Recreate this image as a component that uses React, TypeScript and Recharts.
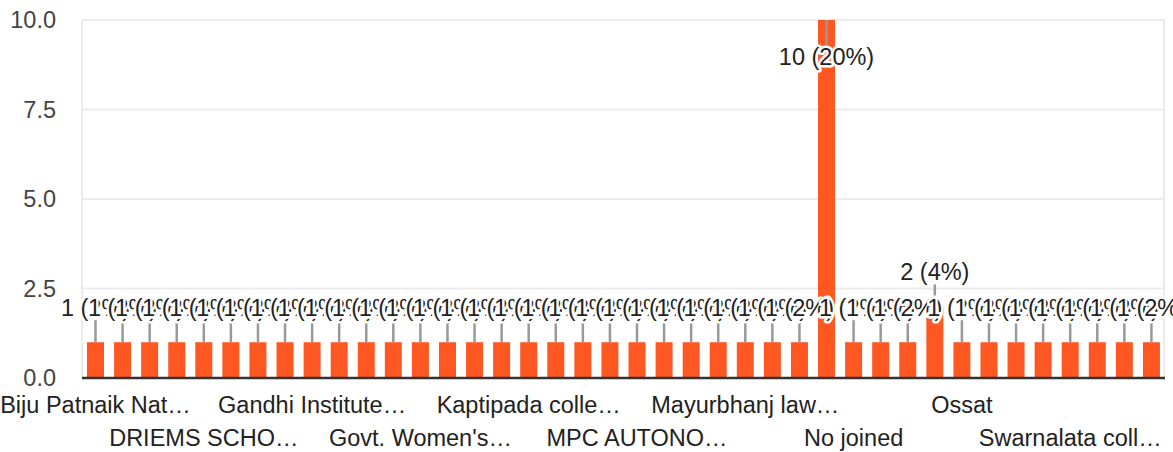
import React from "react";
import { BarChart, Bar, XAxis, YAxis, CartesianGrid, LabelList } from "recharts";

const categories: string[] = [
  "Biju Patnaik National Law University",
  "Buxi Jagabandhu Bidyadhar College",
  "Christ College",
  "College of Engineering Bhubaneswar",
  "DRIEMS SCHOOL OF NURSING",
  "Dhenkanal Autonomous College",
  "Fakir Mohan University",
  "G.M. University",
  "Gandhi Institute of Engineering and Technology",
  "Gangadhar Meher University",
  "Government College Bhubaneswar",
  "Govt. College Koraput",
  "Govt. Women's College",
  "ITER, SOA University",
  "KIIT University",
  "Kalinga University",
  "Kaptipada college",
  "Karanjia Autonomous College",
  "Khallikote University",
  "Lalbahadur Shastri College",
  "MPC AUTONOMOUS COLLEGE",
  "Maharaja Sriram Chandra Bhanja Deo University",
  "Maharishi College of Natural Law",
  "Mahatma Gandhi College",
  "Mayurbhanj law college",
  "Mayurbhanj medical college",
  "NIT Rourkela",
  "No",
  "No joined",
  "Noida International University",
  "None",
  "North Orissa University",
  "Ossat",
  "Pattamundai College",
  "Ravenshaw University",
  "Sambalpur University",
  "Swarnalata college",
  "Udala College",
  "Utkal University",
  "Vikash Degree College",
];

const counts: number[] = [
  1, 1, 1, 1, 1, 1, 1, 1, 1, 1,
  1, 1, 1, 1, 1, 1, 1, 1, 1, 1,
  1, 1, 1, 1, 1, 1, 1, 10, 1, 1,
  1, 2, 1, 1, 1, 1, 1, 1, 1, 1,
];

// Displayed (truncated) x tick labels, shown on every 4th category
const xTickLabels: string[] = [
  "Biju Patnaik Nat…",
  "DRIEMS SCHO…",
  "Gandhi Institute…",
  "Govt. Women's…",
  "Kaptipada colle…",
  "MPC AUTONO…",
  "Mayurbhanj law…",
  "No joined",
  "Ossat",
  "Swarnalata coll…",
];
const TICK_EVERY = 4;

const yTicks: number[] = [0, 2.5, 5, 7.5, 10];

const total = counts.reduce((a, b) => a + b, 0);
const data = categories.map((name, i) => ({ name, value: counts[i] }));

const FONT = "'Liberation Sans', Arial, sans-serif";
const FS = 23.5;
const PLOT_TOP = 20;

const XTick = (props: any) => {
  const { x, y, payload } = props;
  const idx = payload.index;
  if (idx % TICK_EVERY !== 0) return <g />;
  const k = idx / TICK_EVERY;
  const row = k % 2;
  return (
    <text
      x={x}
      y={y + (row === 0 ? 35 : 68)}
      textAnchor="middle"
      fill="#222"
      fontSize={FS}
      fontFamily={FONT}
    >
      {xTickLabels[k]}
    </text>
  );
};

const Leader = (props: any) => {
  const { x, y, width } = props;
  const cx = x + width / 2;
  const inside = y - PLOT_TOP < 45;
  const y1 = inside ? y : y - 22;
  const y2 = inside ? y + 25 : y;
  return <line x1={cx} x2={cx} y1={y1} y2={y2} stroke="#999" strokeWidth={2.5} />;
};

const ValueLabel = (props: any) => {
  const { x, y, width, value } = props;
  const cx = x + width / 2;
  const inside = y - PLOT_TOP < 45;
  const cy = inside ? y + 37 : y - 35;
  const pct = Math.round((value / total) * 100);
  return (
    <text
      x={cx}
      y={cy + FS * 0.355}
      textAnchor="middle"
      fill="#222"
      stroke="#fff"
      strokeWidth={5}
      strokeLinejoin="round"
      paintOrder="stroke"
      fontSize={FS}
      fontFamily={FONT}
    >
      {`${value} (${pct}%)`}
    </text>
  );
};

export default function App() {
  return (
    <div style={{ position: "absolute", left: 0, top: 0, background: "#fff" }}>
      <BarChart
        width={1173}
        height={452}
        data={data}
        margin={{ top: PLOT_TOP, right: 8, left: 0, bottom: 0 }}
        barSize={17}
      >
        <CartesianGrid
          stroke="#ebebeb"
          strokeWidth={2}
          vertical={true}
          verticalPoints={[82, 1164]}
        />
        <XAxis
          dataKey="name"
          interval={0}
          height={74}
          tickSize={0}
          tickMargin={0}
          tickLine={false}
          axisLine={{ stroke: "#333", strokeWidth: 2.5 }}
          tick={<XTick />}
        />
        <YAxis
          width={82}
          domain={[0, 10]}
          ticks={yTicks}
          interval={0}
          tickLine={false}
          axisLine={false}
          tickSize={0}
          tickMargin={26}
          tickFormatter={(v: number) => v.toFixed(1)}
          tick={{ fill: "#444", fontSize: FS, fontFamily: FONT }}
        />
        <Bar dataKey="value" fill="#ff5722" isAnimationActive={false}>
          <LabelList dataKey="value" content={<Leader />} />
          <LabelList dataKey="value" content={<ValueLabel />} />
        </Bar>
      </BarChart>
    </div>
  );
}
